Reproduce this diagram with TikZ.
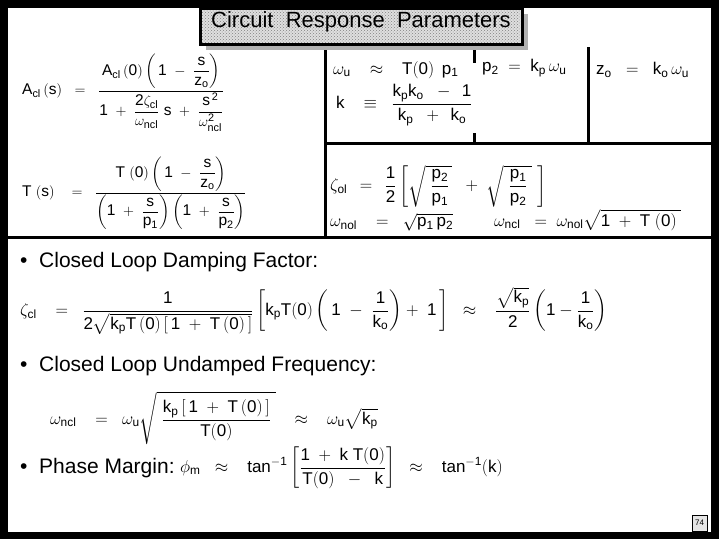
\documentclass[tikz,border=0pt]{standalone}
\usepackage{amsmath}
\usepackage{fontspec}
\setmainfont{Liberation Sans}
\usetikzlibrary{patterns}
\newcommand{\ueq}[1]{$\displaystyle\mathrm{#1}$}
\begin{document}
\begin{tikzpicture}[x=1pt,y=-1pt,
  eq/.style={inner sep=0pt,font=\fontsize{17}{20}\selectfont},
  leq/.style={inner sep=0pt,font=\fontsize{15.5}{18}\selectfont},
  bul/.style={inner sep=0pt,anchor=west,font=\fontsize{21}{25}\selectfont},
  rule/.style={line width=3pt}]
\useasboundingbox (0,0) rectangle (719,539);
\fill[black] (0,0) rectangle (719,539);
\fill[white] (8,8) rectangle (711,532);
% rules
\draw[rule] (325,42) -- (325,237);
\draw[rule] (325,143) -- (711,143);
\draw[rule] (8,237) -- (711,237);
\draw[rule] (588,47) -- (588,143);
\draw[rule] (474,47) -- (474,63);
\draw[rule] (474,133) -- (474,143);
% title
\fill[gray!60] (206,14) rectangle (528,50);
\draw[line width=3pt,fill=gray!25] (200,8) rectangle (522,44);
\fill[pattern=crosshatch dots,pattern color=gray] (202,10) rectangle (520,42);
\node[inner sep=0pt,font=\fontsize{22}{25}\selectfont] (title) at (361,22) {Circuit\ \ Response\ \ Parameters};
% left equations
\node[leq,anchor=west] (acl) at (22,93) {\ueq{A_{cl}\,(s)\ \ =\ \ \frac{A_{cl}\,(0)\left(\,1\ -\ \dfrac{s}{z_o}\right)}{1\ +\ \dfrac{2\zeta_{cl}}{\omega_{ncl}}\ s\ +\ \dfrac{s^{\,2}}{\omega_{ncl}^{2}}}}};
\node[leq,anchor=west] (ts) at (22,193) {\ueq{T\ (s)\ \ \ =\ \ \frac{T\ (0)\left(\,1\ -\ \dfrac{s}{z_o}\right)}{\left(1\ +\ \dfrac{s}{p_1}\right)\left(1\ +\ \dfrac{s}{p_2}\right)}}};
% right top
\node[eq,anchor=west] (wu) at (333,70) {\ueq{\omega_u\ \ \ \approx\ \ \ T(0)\ \,p_1}};
\node[eq,anchor=west] (p2) at (482,68) {\ueq{p_2\ =\ k_p\,\omega_u}};
\node[eq,anchor=west] (zo) at (596,70) {\ueq{z_o\ \ =\ \ k_o\,\omega_u}};
\node[eq,anchor=west] (k) at (336,105) {\ueq{k\ \ \ \equiv\ \ \frac{k_pk_o\ \ -\ \,1}{k_p\ \ +\ \,k_o}}};
\node[eq,anchor=west] (zol) at (330,186) {\ueq{\zeta_{ol}\ \,=\,\ \frac{1}{2}\left[\sqrt{\ \frac{p_2}{p_1}\,}\ \ +\ \sqrt{\ \frac{p_1}{p_2}\ }\ \right]}};
\node[eq,anchor=west] (wnol) at (330,222) {\ueq{\omega_{nol}\ \ \ =\ \ \sqrt{p_1\,p_2}}};
\node[eq,anchor=west] (wncl) at (494,220) {\ueq{\omega_{ncl}\ \ =\ \omega_{nol}\sqrt{1\ +\ T\ (0)\ }}};
% bullets
\node[bul] (b1) at (20,262) {\textbullet\ \ Closed Loop Damping Factor:};
\node[eq,anchor=west] (zcl) at (20,311) {\ueq{\zeta_{cl}\ \ \ =\ \ \frac{1}{2\sqrt{k_pT\,(0)\left[\,1\ +\ T\,(0)\,\right]}}\left[k_pT(0)\left(\,1\ -\ \frac{1}{k_o}\right)+\ 1\,\right]\ \ \approx\ \ \ \frac{\sqrt{k_p}}{2}\left(1-\frac{1}{k_o}\right)}};
\node[bul] (b2) at (20,366) {\textbullet\ \ Closed Loop Undamped Frequency:};
\node[eq,anchor=west] (wn) at (50,418) {\ueq{\omega_{ncl}\ \ \ =\ \ \omega_u\sqrt{\ \frac{k_p\left[\,1\ +\ T\,(0)\,\right]}{T(0)}\ }\ \ \ \approx\ \ \ \omega_u\sqrt{k_p}}};
\node[bul] (b3) at (20,468) {\textbullet\ \ Phase Margin:};
\node[eq,anchor=west] (pm) at (180,468) {\ueq{\phi_m\ \ \approx\ \ \ \tan^{-1}\left[\frac{1\ +\ k\ T(0)}{T(0)\ \ -\ \ k}\right]\ \ \approx\ \ \ \tan^{-1}(k)}};
% page number
\draw[fill=gray!20] (692,515) rectangle (707,531);
\node[inner sep=0pt,font=\fontsize{8}{9}\selectfont] (pg) at (699.5,523) {74};
\end{tikzpicture}
\end{document}
